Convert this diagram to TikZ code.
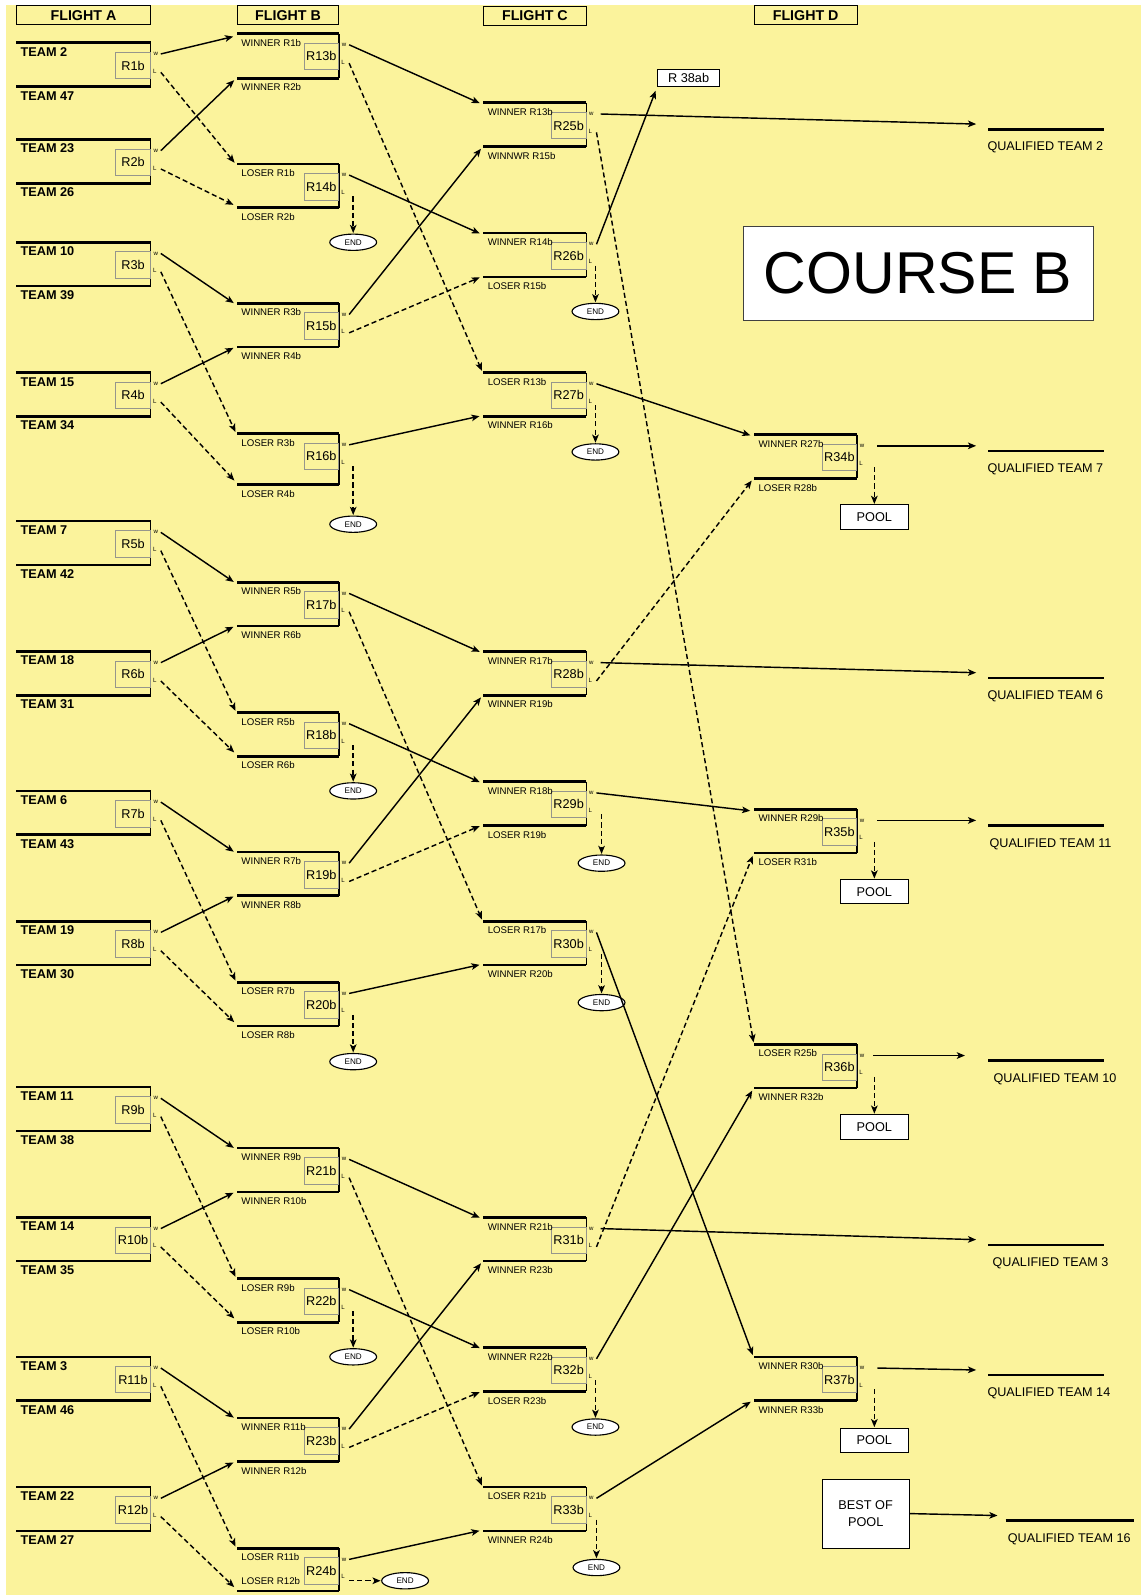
\documentclass[tikz,border=0pt]{standalone}
\usepackage{fontspec}
\setmainfont{Liberation Sans}
\usetikzlibrary{arrows.meta,shapes.geometric}
\definecolor{bgyellow}{RGB}{251,243,156}
\definecolor{idgray}{RGB}{150,150,140}

% #1 id, #2 left, #3 right, #4 top y, #5 height, #6 top label, #7 bottom label, #8 label style, #9 bottom label offset
\newcommand\mymatch[9]{%
  \draw[hline] (#2,#4) -- (#3,#4);
  \draw[hline] (#2,#4+#5) -- (#3,#4+#5);
  \draw[vline] (#3,#4) -- (#3,#4+#5);
  \node[idbox,anchor=north east] (#1) at (#3,#4+9) {#1};
  \node[#8,anchor=west] (#1-top) at (#2+4,#4+9) {#6};
  \node[#8,anchor=west] (#1-bot) at (#2+4,#4+#5+#9) {#7};
  \node[wl] (#1-wlab) at (#3+5,#4+11) {w};
  \node[wl] (#1-llab) at (#3+4,#4+28) {L};
  \coordinate (#1-w) at (#3+10,#4+11);
  \coordinate (#1-l) at (#3+10,#4+29);
  \coordinate (#1-ld) at (#3+14,#4+32);
  \coordinate (#1-t) at (#2,#4+2);
  \coordinate (#1-b) at (#2,#4+#5-1);
}
% #1 name, #2 x1, #3 x2, #4 y, #5 text, #6 label x, #7 gap
\newcommand\qual[7]{%
  \draw[hline] (#2,#4) -- (#3,#4);
  \node[qlab,anchor=west] (#1) at (#6,#4+18) {#5};
  \coordinate (#1-in) at (#2-#7,#4-5);
}

\begin{document}
\begin{tikzpicture}[x=1pt,y=-1pt,
 hline/.style={line width=2.6pt},
 vline/.style={line width=1.3pt},
 idbox/.style={draw=idgray,line width=0.6pt,minimum width=34pt,minimum height=26pt,inner sep=0pt,font=\fontsize{12.5}{14}\selectfont},
 team/.style={inner sep=0pt,font=\bfseries\fontsize{12.5}{14}\selectfont},
 small/.style={inner sep=0pt,font=\fontsize{9.5}{11}\selectfont},
 wl/.style={inner sep=0pt,font=\fontsize{6}{7}\selectfont},
 win/.style={line width=1.4pt,-{Stealth[length=8pt,width=6.5pt,inset=2pt]},shorten >=4pt},
 lose/.style={win,dash pattern=on 5pt off 3pt},
 endarrow/.style={lose,shorten >=0.5pt},
 endnode/.style={ellipse,draw,fill=white,line width=1.1pt,minimum width=46pt,minimum height=16pt,inner sep=0pt,font=\fontsize{8}{9}\selectfont},
 pool/.style={draw,fill=white,line width=0.8pt,minimum width=66pt,minimum height=24pt,inner sep=0pt,font=\fontsize{12.5}{14}\selectfont},
 hdr/.style={draw,line width=1pt,minimum height=19pt,inner sep=0pt,font=\bfseries\fontsize{14}{16}\selectfont},
 qlab/.style={inner sep=0pt,font=\fontsize{12.4}{14}\selectfont},
 whitebox/.style={draw=black!75,fill=white,line width=0.8pt,inner sep=0pt},
]
\useasboundingbox (0,0) rectangle (1125,1567);
\fill[bgyellow] (6,5) rectangle (1121,1567);

% headers
\node[hdr,minimum width=132pt] (FA) at (82,15) {FLIGHT A};
\node[hdr,minimum width=100pt] (FB) at (283,15) {FLIGHT B};
\node[hdr,minimum width=101pt] (FC) at (525.5,15.5) {FLIGHT C};
\node[hdr,minimum width=101pt] (FD) at (791.5,15) {FLIGHT D};

% Flight A
\mymatch{R1b}{16}{148}{42}{43}{TEAM 2}{TEAM 47}{team}{9}
\mymatch{R2b}{16}{148}{137}{43}{TEAM 23}{TEAM 26}{team}{9}
\mymatch{R3b}{16}{148}{238}{43}{TEAM 10}{TEAM 39}{team}{9}
\mymatch{R4b}{16}{148}{366}{43}{TEAM 15}{TEAM 34}{team}{9}
\mymatch{R5b}{16}{148}{512}{43}{TEAM 7}{TEAM 42}{team}{9}
\mymatch{R6b}{16}{148}{640}{43}{TEAM 18}{TEAM 31}{team}{9}
\mymatch{R7b}{16}{148}{777}{43}{TEAM 6}{TEAM 43}{team}{9}
\mymatch{R8b}{16}{148}{905}{43}{TEAM 19}{TEAM 30}{team}{9}
\mymatch{R9b}{16}{148}{1068}{43}{TEAM 11}{TEAM 38}{team}{9}
\mymatch{R10b}{16}{148}{1196}{43}{TEAM 14}{TEAM 35}{team}{9}
\mymatch{R11b}{16}{148}{1333}{43}{TEAM 3}{TEAM 46}{team}{9}
\mymatch{R12b}{16}{148}{1461}{43}{TEAM 22}{TEAM 27}{team}{9}

% Flight B
\mymatch{R13b}{233}{333}{33}{44}{WINNER R1b}{WINNER R2b}{small}{9}
\mymatch{R14b}{233}{333}{161}{43}{LOSER R1b}{LOSER R2b}{small}{9}
\mymatch{R15b}{233}{333}{298}{43}{WINNER R3b}{WINNER R4b}{small}{9}
\mymatch{R16b}{233}{333}{426}{50}{LOSER R3b}{LOSER R4b}{small}{9}
\mymatch{R17b}{233}{333}{572}{43}{WINNER R5b}{WINNER R6b}{small}{9}
\mymatch{R18b}{233}{333}{700}{43}{LOSER R5b}{LOSER R6b}{small}{9}
\mymatch{R19b}{233}{333}{837}{43}{WINNER R7b}{WINNER R8b}{small}{9}
\mymatch{R20b}{233}{333}{965}{43}{LOSER R7b}{LOSER R8b}{small}{9}
\mymatch{R21b}{233}{333}{1128}{43}{WINNER R9b}{WINNER R10b}{small}{9}
\mymatch{R22b}{233}{333}{1256}{43}{LOSER R9b}{LOSER R10b}{small}{9}
\mymatch{R23b}{233}{333}{1393}{43}{WINNER R11b}{WINNER R12b}{small}{9}
\mymatch{R24b}{233}{333}{1521}{42}{LOSER R11b}{LOSER R12b}{small}{-10}

% Flight C
\mymatch{R25b}{475}{576}{101}{43}{WINNER R13b}{WINNWR R15b}{small}{9}
\mymatch{R26b}{475}{576}{229}{43}{WINNER R14b}{LOSER R15b}{small}{9}
\mymatch{R27b}{475}{576}{366}{43}{LOSER R13b}{WINNER R16b}{small}{9}
\mymatch{R28b}{475}{576}{640}{43}{WINNER R17b}{WINNER R19b}{small}{9}
\mymatch{R29b}{475}{576}{768}{43}{WINNER R18b}{LOSER R19b}{small}{9}
\mymatch{R30b}{475}{576}{905}{43}{LOSER R17b}{WINNER R20b}{small}{9}
\mymatch{R31b}{475}{576}{1196}{43}{WINNER R21b}{WINNER R23b}{small}{9}
\mymatch{R32b}{475}{576}{1324}{43}{WINNER R22b}{LOSER R23b}{small}{9}
\mymatch{R33b}{475}{576}{1461}{43}{LOSER R21b}{WINNER R24b}{small}{9}

% Flight D
\mymatch{R34b}{741}{842}{427}{43}{WINNER R27b}{LOSER R28b}{small}{9}
\mymatch{R35b}{741}{842}{795}{43}{WINNER R29b}{LOSER R31b}{small}{9}
\mymatch{R36b}{741}{842}{1026}{43}{LOSER R25b}{WINNER R32b}{small}{9}
\mymatch{R37b}{741}{842}{1333}{43}{WINNER R30b}{WINNER R33b}{small}{9}

% qualified slots
\qual{Q2}{971}{1085}{127}{QUALIFIED TEAM 2}{970}{8}
\qual{Q7}{971}{1085}{443}{QUALIFIED TEAM 7}{970}{8}
\qual{Q6}{971}{1085}{666}{QUALIFIED TEAM 6}{970}{8}
\qual{Q11}{971}{1085}{811}{QUALIFIED TEAM 11}{972}{8}
\qual{Q10}{971}{1085}{1042}{QUALIFIED TEAM 10}{976}{19}
\qual{Q3}{971}{1085}{1223}{QUALIFIED TEAM 3}{975}{8}
\qual{Q14}{971}{1085}{1351}{QUALIFIED TEAM 14}{970}{8}
\qual{Q16}{988}{1114}{1494}{QUALIFIED TEAM 16}{990}{4}

% boxes
\node[whitebox,minimum width=344pt,minimum height=93pt,font=\fontsize{58}{60}\selectfont] (CB) at (902,268.5) {COURSE B};
\node[whitebox,draw=black,minimum width=61pt,minimum height=17pt,font=\fontsize{12.5}{14}\selectfont] (R38) at (676.5,76.5) {R 38ab};
\node[pool,minimum width=85pt,minimum height=68pt,align=center,font=\fontsize{12.5}{16}\selectfont] (BP) at (850.5,1487) {BEST OF\\POOL};

% END and POOL nodes
\node[endnode] (E14) at (347,238) {END};
\node[endnode] (E16) at (347,515) {END};
\node[endnode] (E18) at (347,777) {END};
\node[endnode] (E20) at (347,1043) {END};
\node[endnode] (E22) at (347,1333) {END};
\node[endnode] (E24) at (398,1553) {END};
\node[endnode] (E26) at (585,306) {END};
\node[endnode] (E27) at (585,444) {END};
\node[endnode] (E29) at (591,848) {END};
\node[endnode] (E30) at (591,985) {END};
\node[endnode] (E32) at (585,1402) {END};
\node[endnode] (E33) at (586,1540) {END};
\node[pool] (P34) at (859,508) {POOL};
\node[pool] (P35) at (859,876) {POOL};
\node[pool] (P36) at (859,1107) {POOL};
\node[pool] (P37) at (859,1415) {POOL};

% A -> B
\draw[win] (R1b-w) -- (R13b-t);   \draw[lose] (R1b-l) -- (R14b-t);
\draw[win] (R2b-w) -- (R13b-b);   \draw[lose] (R2b-l) -- (R14b-b);
\draw[win] (R3b-w) -- (R15b-t);   \draw[lose] (R3b-l) -- (R16b-t);
\draw[win] (R4b-w) -- (R15b-b);   \draw[lose] (R4b-l) -- (R16b-b);
\draw[win] (R5b-w) -- (R17b-t);   \draw[lose] (R5b-l) -- (R18b-t);
\draw[win] (R6b-w) -- (R17b-b);   \draw[lose] (R6b-l) -- (R18b-b);
\draw[win] (R7b-w) -- (R19b-t);   \draw[lose] (R7b-l) -- (R20b-t);
\draw[win] (R8b-w) -- (R19b-b);   \draw[lose] (R8b-l) -- (R20b-b);
\draw[win] (R9b-w) -- (R21b-t);   \draw[lose] (R9b-l) -- (R22b-t);
\draw[win] (R10b-w) -- (R21b-b);  \draw[lose] (R10b-l) -- (R22b-b);
\draw[win] (R11b-w) -- (R23b-t);  \draw[lose] (R11b-l) -- (R24b-t);
\draw[win] (R12b-w) -- (R23b-b);  \draw[lose] (R12b-l) -- (R24b-b);

% B -> C
\draw[win] (R13b-w) -- (R25b-t);  \draw[lose] (R13b-l) -- (R27b-t);
\draw[win] (R14b-w) -- (R26b-t);  \draw[endarrow] (E14 |- R14b-ld) -- (E14);
\draw[win] (R15b-w) -- (R25b-b);  \draw[lose] (R15b-l) -- (R26b-b);
\draw[win] (R16b-w) -- (R27b-b);  \draw[endarrow] (E16 |- R16b-ld) -- (E16);
\draw[win] (R17b-w) -- (R28b-t);  \draw[lose] (R17b-l) -- (R30b-t);
\draw[win] (R18b-w) -- (R29b-t);  \draw[endarrow] (E18 |- R18b-ld) -- (E18);
\draw[win] (R19b-w) -- (R28b-b);  \draw[lose] (R19b-l) -- (R29b-b);
\draw[win] (R20b-w) -- (R30b-b);  \draw[endarrow] (E20 |- R20b-ld) -- (E20);
\draw[win] (R21b-w) -- (R31b-t);  \draw[lose] (R21b-l) -- (R33b-t);
\draw[win] (R22b-w) -- (R32b-t);  \draw[endarrow] (E22 |- R22b-ld) -- (E22);
\draw[win] (R23b-w) -- (R31b-b);  \draw[lose] (R23b-l) -- (R32b-b);
\draw[win] (R24b-w) -- (R33b-b);  \draw[endarrow] (R24b-l |- E24) -- (E24);

% C -> D
\draw[win] ([xshift=4pt]R25b-w) -- (Q2-in);   \draw[lose] (R25b-l) -- (R36b-t);
\draw[win] (R26b-w) -- (R38.south west);      \draw[endarrow] (E26 |- R26b-ld) -- (E26);
\draw[win] (R27b-w) -- (R34b-t);              \draw[endarrow] (E27 |- R27b-ld) -- (E27);
\draw[win] ([xshift=4pt]R28b-w) -- (Q6-in);   \draw[lose] (R28b-l) -- (R34b-b);
\draw[win] (R29b-w) -- (R35b-t);              \draw[endarrow] (E29 |- R29b-ld) -- (E29);
\draw[win] (R30b-w) -- (R37b-t);              \draw[endarrow] (E30 |- R30b-ld) -- (E30);
\draw[win] ([xshift=4pt]R31b-w) -- (Q3-in);   \draw[lose] (R31b-l) -- (R35b-b);
\draw[win] (R32b-w) -- (R36b-b);              \draw[endarrow] (E32 |- R32b-ld) -- (E32);
\draw[win] (R33b-w) -- (R37b-b);              \draw[endarrow] (E33 |- R33b-ld) -- (E33);

% D -> qualified
\draw[win] ([xshift=10pt]R34b-w) -- (Q7-in);  \draw[endarrow] (P34 |- R34b-ld) -- (P34);
\draw[win] ([xshift=10pt]R35b-w) -- (Q11-in); \draw[endarrow] (P35 |- R35b-ld) -- (P35);
\draw[win] ([xshift=6pt]R36b-w) -- (Q10-in);  \draw[endarrow] (P36 |- R36b-ld) -- (P36);
\draw[win] ([xshift=10pt]R37b-w) -- (Q14-in); \draw[endarrow] (P37 |- R37b-ld) -- (P37);
\draw[win] (BP.east) -- (Q16-in);
\end{tikzpicture}
\end{document}
